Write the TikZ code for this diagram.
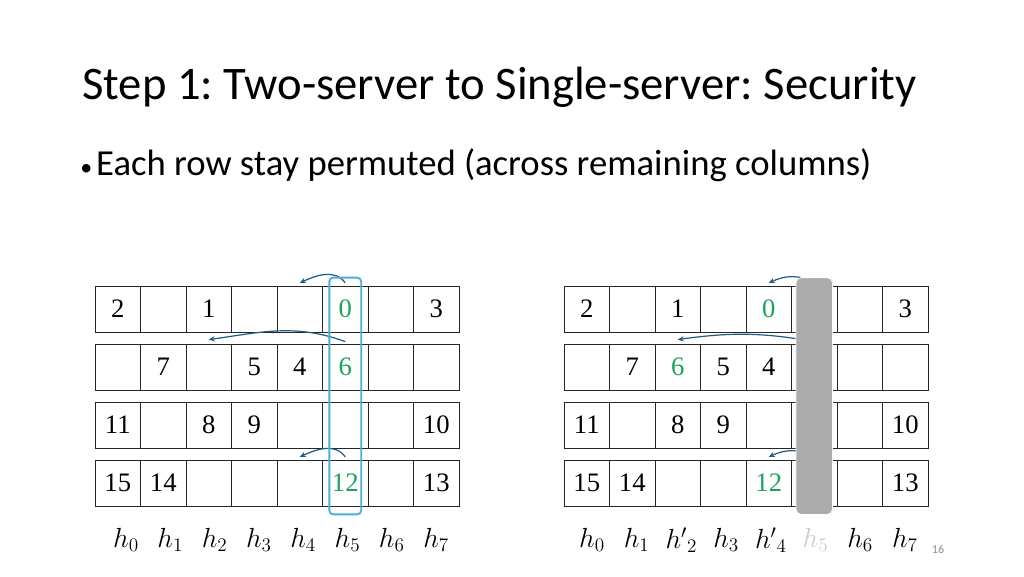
\documentclass[tikz,border=0pt]{standalone}
\usepackage{fontspec}
\newfontfamily\slidefont{Carlito}
\newfontfamily\cellfont{Liberation Serif}
\usetikzlibrary{calc, positioning, fit, arrows.meta}
\definecolor{CellGreen}{HTML}{1BA35B}
\definecolor{ArrowBlue}{HTML}{1F5A82}
\definecolor{FrameBlue}{HTML}{4BACDE}
\definecolor{BarGray}{HTML}{ABABAB}
\definecolor{PageGray}{HTML}{8C8C8C}
\frenchspacing
\newcommand{\grn}[1]{\textcolor{CellGreen}{#1}}
\tikzset{
    cell/.style={draw=black!85, line width=0.6pt, minimum width=34.1pt,
        minimum height=34.5pt, inner sep=0pt, font=\cellfont\fontsize{20}{20}\selectfont},
    hlabel/.style={font=\fontsize{20.74}{20.74}\selectfont, inner sep=1pt},
    permarrow/.style={ArrowBlue, line width=0.9pt, -{Stealth[length=4.5pt, width=4pt]}},
    colframe/.style={draw=FrameBlue, line width=1.4pt, rounded corners=3pt},
    colbar/.style={fill=BarGray, draw=white, line width=0.6pt, rounded corners=4pt}
}

\begin{document}
\begin{tikzpicture}[x=0.75pt, y=0.75pt]
    % =========================================
    % 1. 背景与标题
    % =========================================
    \useasboundingbox (0,0) rectangle (1024,576);
    \fill[white] (0,0) rectangle (1024,576);

    \node[anchor=base west, inner sep=0pt, font=\slidefont\fontsize{35}{35}\selectfont]
        (title) at (82,476) {Step 1: Two-server to Single-server: Security};
    \node[anchor=base west, inner sep=0pt, font=\slidefont\fontsize{27.5}{27.5}\selectfont]
        (bullet) at (80,401) {{\fontsize{18}{18}\selectfont\textbullet}\hspace{3pt}Each row stay permuted (across remaining columns)};

    % =========================================
    % 2. 左侧表格 (原始排列)
    % =========================================
    \foreach \r/\yy/\vals in {1/267/{2,,1,,,\grn{0},,3},
                              2/209/{,7,,5,4,\grn{6},,},
                              3/151/{11,,8,9,,,,10},
                              4/93/{15,14,,,,\grn{12},,13}} {
        \foreach \v [count=\c] in \vals {
            \pgfmathsetmacro{\xx}{95 + 45.5*(\c-1) + 22.75}
            \node[cell] (L-\r-\c) at (\xx,\yy) {\v};
        }
    }

    % 移动箭头
    \draw[permarrow] ([yshift=2pt]L-1-6.north) to[out=125, in=25] ([yshift=2pt]L-1-5.north);
    \draw[permarrow] ([yshift=1.5pt]L-2-6.north) to[out=160, in=8] ([yshift=3pt]L-2-3.north);
    \draw[permarrow] ([yshift=2pt]L-4-6.north) to[out=125, in=25] ([yshift=2pt]L-4-5.north);

    % 第 5 列的框
    \node[colframe, fit=(L-1-6)(L-4-6), inner xsep=-5.4pt, inner ysep=6pt] (frame) {};

    % 列标签
    \foreach \i in {0,...,7} {
        \pgfmathsetmacro{\xx}{126 + 44.3*\i}
        \node[hlabel] (hL-\i) at (\xx,36) {$h_{\i}$};
    }

    % =========================================
    % 3. 右侧表格 (删除第 5 列之后)
    % =========================================
    \foreach \r/\yy/\vals in {1/267/{2,,1,,\grn{0},,,3},
                              2/209/{,7,\grn{6},5,4,,,},
                              3/151/{11,,8,9,,,,10},
                              4/93/{15,14,,,\grn{12},,,13}} {
        \foreach \v [count=\c] in \vals {
            \pgfmathsetmacro{\xx}{564 + 45.5*(\c-1) + 22.75}
            \node[cell] (R-\r-\c) at (\xx,\yy) {\v};
        }
    }

    \draw[permarrow] ([yshift=2pt]R-1-6.north) to[out=150, in=25] ([yshift=2pt]R-1-5.north);
    \draw[permarrow] ([yshift=1.5pt]R-2-6.north) to[out=170, in=8] ([yshift=3pt]R-2-3.north);
    \draw[permarrow] ([yshift=2pt]R-4-6.north) to[out=150, in=25] ([yshift=2pt]R-4-5.north);

    % 灰色遮挡条
    \node[colbar, fit=(R-1-6)(R-4-6), inner xsep=-3.6pt, inner ysep=6pt] (bar) {};

    \foreach \i/\lab in {0/{h_0}, 1/{h_1}, 2/{{h'}_2}, 3/{h_3}, 4/{{h'}_4},
                         5/{\color{black!20}h_5}, 6/{h_6}, 7/{h_7}} {
        \pgfmathsetmacro{\xx}{592 + 44.7*\i}
        \node[hlabel] (hR-\i) at (\xx,36) {$\lab$};
    }

    % 页码
    \node[font=\slidefont\fontsize{9}{9}\selectfont, text=PageGray] (page) at (938,27) {16};

\end{tikzpicture}
\end{document}
